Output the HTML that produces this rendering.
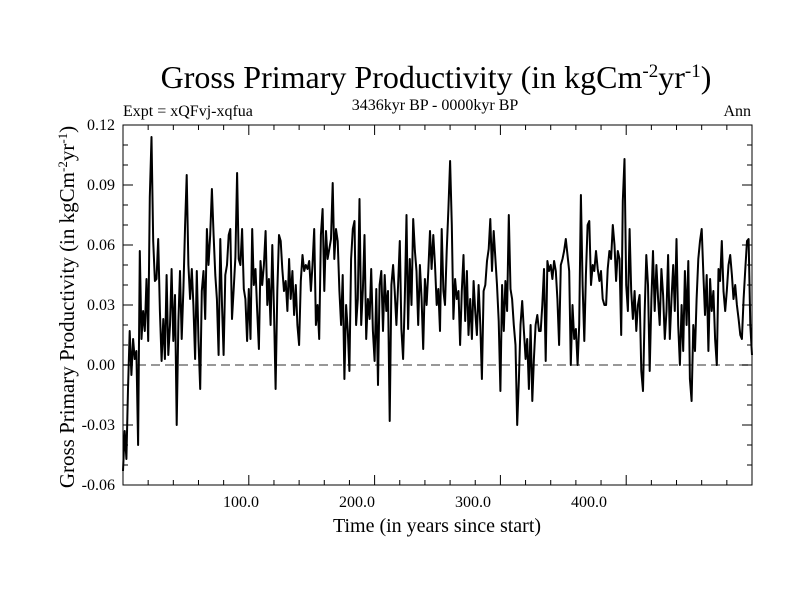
<!DOCTYPE html>
<html><head><meta charset="utf-8"><style>
html,body{margin:0;padding:0;background:#fff;}
svg{display:block;font-family:"Liberation Serif",serif;}
</style></head><body>
<svg id="chart" width="800" height="600">
<text x="436" y="88" font-size="32" text-anchor="middle">Gross Primary Productivity (in kgCm<tspan dy="-11" font-size="19">-2</tspan><tspan dy="11">yr</tspan><tspan dy="-11" font-size="19">-1</tspan><tspan dy="11">)</tspan></text>
<text x="435" y="110" font-size="16" text-anchor="middle">3436kyr BP - 0000kyr BP</text>
<text x="123" y="116" font-size="16">Expt = xQFvj-xqfua</text>
<text x="751" y="116" font-size="16" text-anchor="end">Ann</text>
<text transform="translate(74,307) rotate(-90)" font-size="21" text-anchor="middle">Gross Primary Productivity (in kgCm<tspan dy="-7" font-size="13">-2</tspan><tspan dy="7">yr</tspan><tspan dy="-7" font-size="13">-1</tspan><tspan dy="7">)</tspan></text>
<text x="437" y="532" font-size="20" text-anchor="middle">Time (in years since start)</text>
<g id="axes"></g>
<g id="series"></g>
</svg>
<script>
const yTicks=[0.12,0.09,0.06,0.03,0.00,-0.03,-0.06];
const yTickLabels=["0.12","0.09","0.06","0.03","0.00","-0.03","-0.06"];
const xTickLabels=["100.0","200.0","300.0","400.0"];
const xTickLabelPos=[241,357,473,589];
const seg1=[-53,-33,-47,-12,17,-5,13,3,7,-40,57,13,27,17,43,12,84,114,62,42,43,63,27,2,23,3,45,5,20,48,12,35,-30,22,47,13,38,70,95,50,33,48,30,3,47,12,-12,37,47,23,68,50,65,88,65,45,33,5,63,30,5,45,50,65,68,23,38,54,96,53,50,68,38,33,12,38,13,68,40,48,27,8,52,40,50];
const seg2=[67,30,43,20,60,27,-12,37,65,62,48,37,42,27,53,33,47,25,40,20,10,42,55,47,50,48,52,37,50,68,20,30,13,65,78,37,67,53,58,63,91,53,68,62,37,20,45,-7,30,17,-3,53,68,72,20,33,83,20,38,65,13,33,23,48,17,2,38,-10,40,47,17,45,27,37,-28,40,50,37,20,40,62,18,3,33,75,18,53,30,73,57,47,20,50,33,8,43,30,47,67,48,65];
const seg3=[50,30,38,17,68,37,30,57,78,102,70,23,43,33,37,10,37,55,22,47,15,33,13,42,27,15,40,20,-7,37,40,52,58,73,47,67,53,40,22,-13,40,17,42,27,75,38,33,20,10,-30,-7,20,32,17,3,13,-12,20,-18,3,20,25,17,17,30,48,2,52,47,50,43,52,47,33,10,50,53,57,63,55,47,0,30,13,18,0,20,85,40,12,45,70,72,40,50,47,57,48,42];
const seg4=[47,33,30,30,48,57,53,70,60,42,57,53,15,82,103,40,27,68,37,23,37,17,30,35,-3,-13,27,55,40,-3,33,57,27,50,33,20,48,35,13,27,55,13,33,50,27,63,20,0,30,7,47,20,52,-7,-18,20,7,33,53,62,68,45,25,45,7,43,27,37,13,0,48,42,62,37,27,37,50,55,45,33,40,30,23,15,13,33,48,62,63,20,5];
const values=seg1.concat(seg2,seg3,seg4).map(v=>v/1000);
const xMin=0,xMax=500,yMin=-0.06,yMax=0.12;
const L=123,R=752,T=125,B=485;
const sx=v=>L+(v-xMin)/(xMax-xMin)*(R-L);
const sy=v=>B-(v-yMin)/(yMax-yMin)*(B-T);
const NS="http://www.w3.org/2000/svg";
const axes=document.getElementById('axes');
function mk(tag,attrs,parent){const e=document.createElementNS(NS,tag);for(const k in attrs)e.setAttribute(k,attrs[k]);parent.appendChild(e);return e;}
const z=mk('line',{x1:L,x2:R,y1:sy(0),y2:sy(0),stroke:'#777','stroke-width':1.5,'stroke-dasharray':'9,5'},axes);


for(let v=-6;v<=12;v++){const y=sy(v/100);const len=(v%3===0)?10:5;
 const t1=mk('line',{x1:L,x2:L+len,y1:y,y2:y,stroke:'#000','stroke-width':1},axes);
 
 
 const t2=mk('line',{x1:R,x2:R-len,y1:y,y2:y,stroke:'#000','stroke-width':1},axes);
 
 }
yTicks.forEach((v,i)=>{const t=mk('text',{x:L-8,y:sy(v)+5,'font-size':16,'text-anchor':'end'},axes);t.textContent=yTickLabels[i];
 
 });
for(let v=0;v<=500;v+=20){const x=sx(v);const len=(v%100===0)?10:5;
 const t1=mk('line',{x1:x,x2:x,y1:B,y2:B-len,stroke:'#000','stroke-width':1},axes);
 
 
 const t2=mk('line',{x1:x,x2:x,y1:T,y2:T+len,stroke:'#000','stroke-width':1},axes);
 
 }
xTickLabels.forEach((s,i)=>{const t=mk('text',{x:xTickLabelPos[i],y:B+22,'font-size':16,'text-anchor':'middle'},axes);t.textContent=s;
 
 });
const frame=mk('rect',{x:L,y:T,width:R-L,height:B-T,fill:'none',stroke:'#000','stroke-width':1},axes);


const n=values.length;
const pts=values.map((v,i)=>sx(xMin+i*(xMax-xMin)/(n-1)).toFixed(1)+','+sy(v).toFixed(1)).join(' ');
const line=mk('polyline',{points:pts,fill:'none',stroke:'#000','stroke-width':2,'stroke-linejoin':'round'},document.getElementById('series'));


</script>
</body></html>
